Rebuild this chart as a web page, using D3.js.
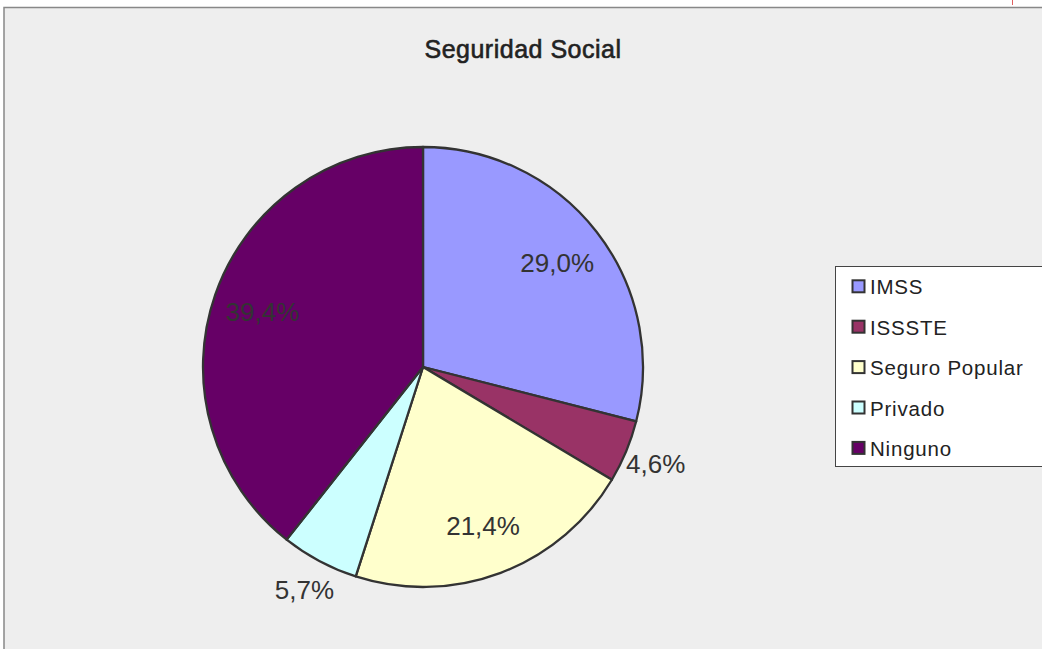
<!DOCTYPE html>
<html><head><meta charset="utf-8">
<script src="https://cdn.jsdelivr.net/npm/d3@7"></script>
<style>body{margin:0;background:#fff}svg{display:block}</style>
</head><body>
<svg id="c" width="1042" height="649"></svg>
<script>
const categories = ["IMSS","ISSSTE","Seguro Popular","Privado","Ninguno"];
const values = [29.0, 4.6, 21.4, 5.7, 39.4];
const colors = ["#9999FF","#993366","#FFFFCC","#CCFFFF","#660066"];
const title = "Seguridad Social";
const FONT = "'Liberation Sans', Arial, sans-serif";

const svg = d3.select("#c");
svg.append("rect").attr("x",4).attr("y",7.5).attr("width",1050).attr("height",660)
  .attr("fill","#eeeeee").attr("stroke","#888").attr("stroke-width",1.5);
svg.append("line").attr("x1",1012.5).attr("x2",1012.5).attr("y1",0).attr("y2",5)
  .attr("stroke","#e06060").attr("stroke-width",1);

svg.append("text").attr("x",523).attr("y",58).attr("text-anchor","middle")
  .attr("font-family",FONT).attr("font-size",25).attr("letter-spacing","0.5")
  .attr("fill","#222").attr("stroke","#222").attr("stroke-width",0.6).text(title);

const cx=423, cy=367, R=220;
const g = svg.append("g").attr("transform",`translate(${cx},${cy})`);
const pie = d3.pie().sort(null).value(d=>d)(values);
const arc = d3.arc().innerRadius(0).outerRadius(R);
g.selectAll("path").data(pie).join("path").attr("d",arc)
  .attr("fill",(d,i)=>colors[i]).attr("stroke","#333").attr("stroke-width",2.3).attr("stroke-linejoin","round");

const fmt = v => d3.format(".1f")(v).replace(".",",")+"%";
const inArc = d3.arc().innerRadius(170).outerRadius(170);
const outArc = d3.arc().innerRadius(252).outerRadius(252);
g.selectAll("text.lab").data(pie).join("text").attr("class","lab")
  .attr("transform",d=>`translate(${(d.data<10?outArc:inArc).centroid(d)})`)
  .attr("text-anchor","middle").attr("dy","0.36em")
  .attr("font-family",FONT).attr("font-size",26)
  .attr("fill","#333").text(d=>fmt(d.data));

const lg = svg.append("g");
lg.append("rect").attr("x",835.5).attr("y",266.5).attr("width",220).attr("height",200)
  .attr("fill","#fff").attr("stroke","#444").attr("stroke-width",1);
categories.forEach((c,i)=>{
  const y = 286.3 + i*40.4;
  lg.append("rect").attr("x",852.5).attr("y",y-6).attr("width",12).attr("height",12)
    .attr("fill",colors[i]).attr("stroke","#333").attr("stroke-width",2);
  lg.append("text").attr("x",870).attr("y",y+8)
    .attr("font-family",FONT).attr("font-size",20.5).attr("letter-spacing","0.8")
    .attr("fill","#222").text(c);
});
</script>
</body></html>
